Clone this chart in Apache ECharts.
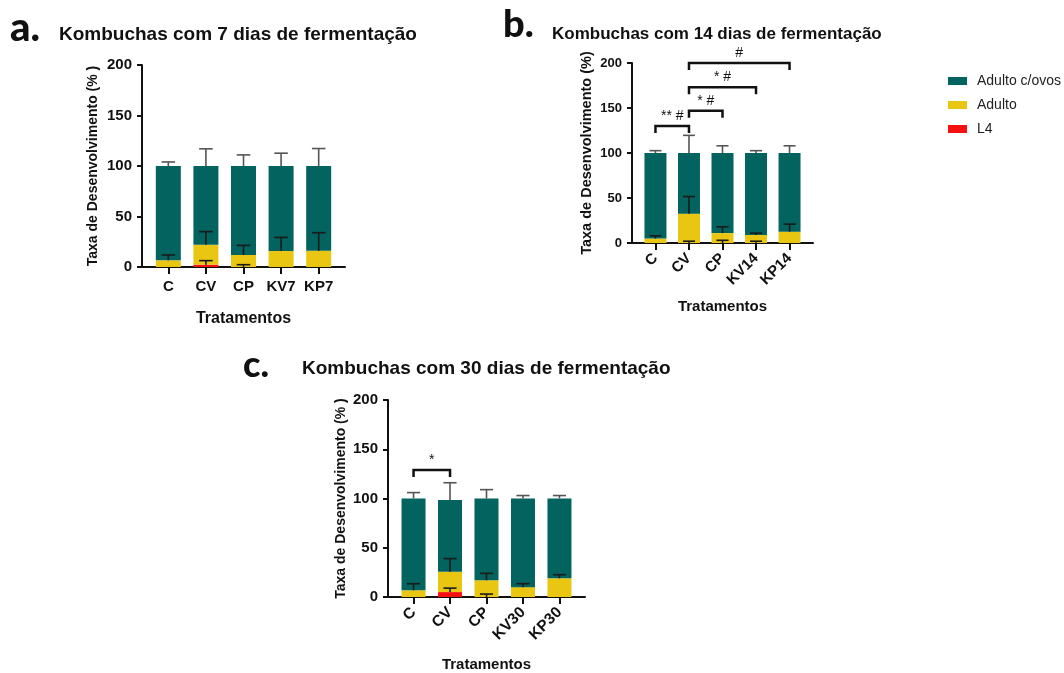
<!DOCTYPE html>
<html><head><meta charset="utf-8">
<script src="https://cdn.jsdelivr.net/npm/echarts@6/dist/echarts.min.js"></script>
<style>html,body{margin:0;padding:0;background:#fff}#main{width:1064px;height:673px}</style>
</head><body><div id="main"></div>
<script>
// ---------- categories ----------
const catsA = ['C', 'CV', 'CP', 'KV7', 'KP7'];
const catsB = ['C', 'CV', 'CP', 'KV14', 'KP14'];
const catsC = ['C', 'CV', 'CP', 'KV30', 'KP30'];
const seriesNames = ['Adulto c/ovos', 'Adulto', 'L4'];
const yTicks = [0, 50, 100, 150, 200];

// ---------- panel a: 7 dias (segment heights, %) ----------
const aL4 = [0, 2.3, 0, 0, 0];
const aL4Sd = [0, 4, 2.3, 0, 0];
const aAdulto = [6.6, 19.7, 11.9, 15.8, 16];
const aAdultoSd = [5.3, 13, 9.5, 13.5, 18];
const aOvos = [93.4, 78, 88.1, 84.2, 84];
const aOvosSd = [4, 17, 11, 12.7, 17.3];

// ---------- panel b: 14 dias ----------
const bL4 = [0, 0, 0, 0, 0];
const bL4Sd = [0, 2, 3, 2, 0];
const bAdulto = [5, 32.6, 11, 9, 12.6];
const bAdultoSd = [3, 19, 7, 2, 8.4];
const bOvos = [95, 67.4, 89, 91, 87.4];
const bOvosSd = [2.6, 19.6, 8, 2.6, 8];
const bBrkFrom = [0, 1, 1, 1];
const bBrkTo = [1, 2, 3, 4];
const bBrkY = [130, 147, 173, 200];
const bBrkLabel = ['** #', '* #', '* #', '#'];

// ---------- panel c: 30 dias ----------
const cL4 = [0, 5, 0, 0, 0];
const cL4Sd = [0, 4, 3, 0, 0];
const cAdulto = [6.8, 20.7, 17, 10, 19];
const cAdultoSd = [6.7, 13.3, 7, 3.5, 3.6];
const cOvos = [93.2, 72.9, 83, 90, 81];
const cOvosSd = [6, 17.4, 9, 3, 3];
const cBrkFrom = [0];
const cBrkTo = [1];
const cBrkY = [129];
const cBrkLabel = ['*'];

const COL_OVOS = '#02635f', COL_AD = '#e8c612', COL_L4 = '#f71010';
const FONT = 'Liberation Sans';

function makeBarRender(color, barW) {
  return function (params, api) {
    const x = api.value(0), y0 = api.value(1), y1 = api.value(2);
    if (y1 <= y0) return null;
    const p0 = api.coord([x, y0]), p1 = api.coord([x, y1]);
    return { type: 'rect', shape: { x: p0[0] - barW / 2, y: p1[1], width: barW, height: p0[1] - p1[1] },
      style: { fill: color } };
  };
}

function errRender(params, api) {
  const x = api.value(0), y0 = api.value(1), y1 = api.value(2), lvl = api.value(3);
  const p0 = api.coord([x, y0]), p1 = api.coord([x, y1]);
  const hw = api.size([1, 0])[0] * 0.18;
  const color = lvl ? '#555555' : '#1a1a1a';
  return { type: 'group', children: [
    { type: 'line', shape: { x1: p0[0], y1: p0[1], x2: p1[0], y2: p1[1] }, style: { stroke: color, lineWidth: 1.6 } },
    { type: 'line', shape: { x1: p1[0] - hw, y1: p1[1], x2: p1[0] + hw, y2: p1[1] }, style: { stroke: color, lineWidth: 1.6 } }
  ]};
}

function makeBracketRender(labels) {
  return function (params, api) {
    const x1 = api.value(0), x2 = api.value(1), y = api.value(2);
    const p1 = api.coord([x1, y]), p2 = api.coord([x2, y]);
    const drop = 7;
    return { type: 'group', children: [
      { type: 'polyline', shape: { points: [[p1[0], p1[1] + drop], [p1[0], p1[1]], [p2[0], p2[1]], [p2[0], p2[1] + drop]] },
        style: { stroke: '#111', lineWidth: 2.5, fill: 'none' } },
      { type: 'text', x: (p1[0] + p2[0]) / 2, y: p1[1] - 3,
        style: { text: labels[params.dataIndex], align: 'center', verticalAlign: 'bottom', fontSize: 14, fontFamily: FONT, fill: '#111' } }
    ]};
  };
}

function panelSeries(gi, L4, L4Sd, Ad, AdSd, Ov, OvSd, barW, brk) {
  const idx = L4.map((_, i) => i);
  const out = [];
  const segs = [['L4', L4, COL_L4], ['Adulto', Ad, COL_AD], ['Adulto c/ovos', Ov, COL_OVOS]];
  const base = idx.map(() => 0);
  segs.forEach(([name, vals, color]) => {
    const data = idx.map(i => [i, base[i], base[i] + vals[i]]);
    idx.forEach(i => { base[i] += vals[i]; });
    out.push({ name, type: 'custom', xAxisIndex: gi, yAxisIndex: gi, renderItem: makeBarRender(color, barW),
      itemStyle: { color }, silent: true, z: 2, encode: { x: 0, y: [1, 2] }, data });
  });
  const err = [];
  idx.forEach(i => {
    const c1 = L4[i], c2 = L4[i] + Ad[i], c3 = L4[i] + Ad[i] + Ov[i];
    if (L4Sd[i] > 0) err.push([i, c1, c1 + L4Sd[i], 0]);
    if (AdSd[i] > 0) err.push([i, c2, c2 + AdSd[i], 0]);
    if (OvSd[i] > 0) err.push([i, c3, c3 + OvSd[i], 1]);
  });
  out.push({ type: 'custom', xAxisIndex: gi, yAxisIndex: gi, renderItem: errRender, z: 5, silent: true,
    encode: { x: 0, y: [1, 2] }, data: err });
  if (brk) {
    out.push({ type: 'custom', xAxisIndex: gi, yAxisIndex: gi, renderItem: makeBracketRender(brk.labels), z: 6, silent: true,
      encode: { x: [0, 1], y: 2 }, data: brk.from.map((f, k) => [f, brk.to[k], brk.y[k]]) });
  }
  return out;
}

function xAx(gi, cats, rotate, fs, nameGap, nameFs, margin) {
  const vals = cats.map((_, i) => i);
  return {
    type: 'value', gridIndex: gi, min: -0.7, max: 4.7,
    name: 'Tratamentos', nameLocation: 'middle', nameGap,
    nameTextStyle: { fontFamily: FONT, fontWeight: 'bold', fontSize: nameFs, color: '#111', verticalAlign: 'top' },
    axisLine: { show: true, onZero: false, lineStyle: { color: '#111', width: 2 } },
    axisTick: { show: true, customValues: vals, length: 7, lineStyle: { color: '#111', width: 2 } },
    axisLabel: { customValues: vals, formatter: v => cats[Math.round(v)], rotate, margin,
      fontSize: fs, fontWeight: 'bold', fontFamily: FONT, color: '#111' },
    splitLine: { show: false }
  };
}
function yAx(gi, name, fs, nameFs, nameGap) {
  return {
    type: 'value', gridIndex: gi, min: 0, max: 200, interval: 50,
    name, nameLocation: 'middle', nameGap,
    nameTextStyle: { fontFamily: FONT, fontWeight: 'bold', fontSize: nameFs, color: '#111' },
    axisLine: { show: true, onZero: false, lineStyle: { color: '#111', width: 2 } },
    axisTick: { show: true, length: 5, lineStyle: { color: '#111', width: 2 } },
    axisLabel: { margin: 10, fontSize: fs, fontWeight: 'bold', fontFamily: FONT, color: '#111',
      formatter: v => String(yTicks[yTicks.indexOf(v)]) },
    splitLine: { show: false }
  };
}

const chart = echarts.init(document.getElementById('main'), null, { renderer: 'canvas' });
chart.setOption({
  backgroundColor: '#ffffff',
  animation: false,
  title: [
    { text: 'a.', left: 10, top: 8, padding: 0, textStyle: { fontFamily: 'Lato', fontWeight: 900, fontSize: 40, color: '#111' } },
    { text: 'Kombuchas com 7 dias de fermentação', left: 59, top: 25, padding: 0, textStyle: { fontFamily: FONT, fontWeight: 'bold', fontSize: 19, color: '#111' } },
    { text: 'b.', left: 503, top: 6, padding: 0, textStyle: { fontFamily: 'Lato', fontWeight: 900, fontSize: 38, color: '#111' } },
    { text: 'Kombuchas com 14 dias de fermentação', left: 552, top: 26, padding: 0, textStyle: { fontFamily: FONT, fontWeight: 'bold', fontSize: 17, color: '#111' } },
    { text: 'c.', left: 243, top: 347, padding: 0, textStyle: { fontFamily: 'Lato', fontWeight: 900, fontSize: 36, color: '#111' } },
    { text: 'Kombuchas com 30 dias de fermentação', left: 302, top: 359, padding: 0, textStyle: { fontFamily: FONT, fontWeight: 'bold', fontSize: 19, color: '#111' } }
  ],
  legend: {
    data: seriesNames, orient: 'vertical', left: 943, top: 69, itemWidth: 19, itemHeight: 8, itemGap: 10,
    icon: 'rect', selectedMode: false,
    textStyle: { fontFamily: FONT, fontSize: 14, color: '#222', padding: [0, 0, 0, 5] }
  },
  grid: [
    { left: 142, top: 65, width: 203, height: 202 },
    { left: 632, top: 63, width: 181, height: 180 },
    { left: 388, top: 400, width: 197, height: 197 }
  ],
  xAxis: [
    xAx(0, catsA, 0, 15, 44, 16, 12),
    xAx(1, catsB, 45, 15, 56, 15, 13),
    xAx(2, catsC, 45, 15.5, 60, 15, 13)
  ],
  yAxis: [
    yAx(0, 'Taxa de Desenvolvimento (% )', 15, 14, 42),
    yAx(1, 'Taxa de Desenvolvimento (%)', 13, 14.5, 38),
    yAx(2, 'Taxa de Desenvolvimento (% )', 15, 14, 40)
  ],
  series: [].concat(
    panelSeries(0, aL4, aL4Sd, aAdulto, aAdultoSd, aOvos, aOvosSd, 25, null),
    panelSeries(1, bL4, bL4Sd, bAdulto, bAdultoSd, bOvos, bOvosSd, 22, { from: bBrkFrom, to: bBrkTo, y: bBrkY, labels: bBrkLabel }),
    panelSeries(2, cL4, cL4Sd, cAdulto, cAdultoSd, cOvos, cOvosSd, 24, { from: cBrkFrom, to: cBrkTo, y: cBrkY, labels: cBrkLabel })
  )
});
</script>
</body></html>
